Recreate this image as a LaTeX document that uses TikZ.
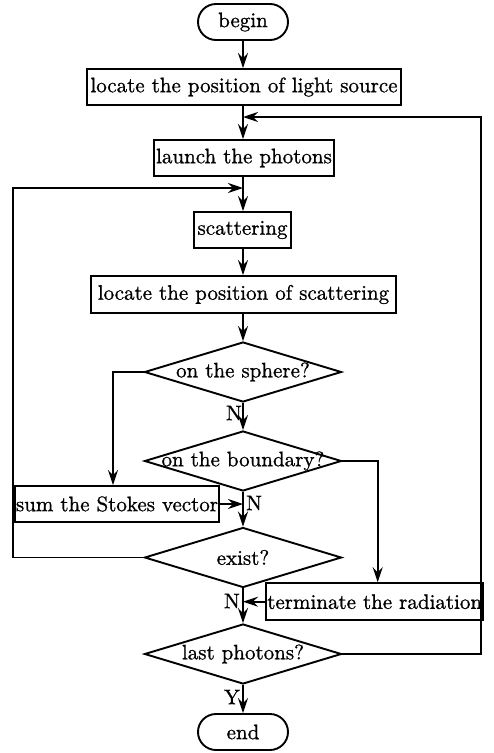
\documentclass[tikz,border=0pt]{standalone}
\usepackage{fontspec}
% the 10pt design of Latin Modern, scaled up and slightly emboldened
\setmainfont{lmroman10-regular.otf}[RawFeature={embolden=0.9}]
\usetikzlibrary{arrows.meta,shapes.geometric}
\tikzset{
  flow/.style={line width=1.9pt,-{Stealth[length=15pt,width=10pt,inset=5pt]}},
  procbox/.style={draw,line width=1.9pt,rectangle,inner xsep=1pt,inner ysep=0pt},
  termbox/.style={draw,line width=1.9pt,rectangle,rounded corners=18pt,minimum width=90pt,minimum height=36pt,inner sep=0pt},
  decide/.style={draw,line width=1.9pt,diamond,inner sep=0pt,minimum width=197pt,minimum height=60pt},
  tag/.style={inner sep=1pt},
}
\begin{document}
\begin{tikzpicture}[x=1pt,y=-1pt,font=\fontsize{21}{24}\selectfont]
\path[use as bounding box] (0,0) rectangle (494,753);

% main column
\node[termbox] (begin) at (243,22) {begin};
\node[procbox,minimum width=314pt,minimum height=36pt] (light) at (244,87) {locate the position of light source};
\node[procbox,minimum width=180pt,minimum height=36pt] (launch) at (244,158) {launch the photons};
\node[procbox,minimum width=97pt,minimum height=36pt] (scat) at (242.5,230) {scattering};
\node[procbox,minimum width=305pt,minimum height=37pt] (locsc) at (243.5,294.5) {locate the position of scattering};
\node[decide] (sphere) at (243,372) {\makebox[0pt]{on the sphere?}};
\node[decide] (bound) at (243,461) {\makebox[0pt]{on the boundary?}};
\node[procbox,minimum width=202pt,minimum height=36pt] (sum) at (117,504) {sum the Stokes vector};
\node[decide] (exist) at (243,557.5) {\makebox[0pt]{exist?}};
\node[procbox,minimum width=211pt,minimum height=37pt] (term) at (374.7,601.7) {terminate the radiation};
\node[decide] (last) at (243,654) {\makebox[0pt]{last photons?}};
\node[termbox] (end) at (243,732) {end};

% junction points on the main axis
\coordinate (j1) at (243,117);
\coordinate (j2) at (243,188);
\coordinate (j3) at (243,504);
\coordinate (j4) at (243,601.7);

% corner points of the side branches
\coordinate (r1) at (481,654);
\coordinate (r2) at (481,117);
\coordinate (l1) at (13,557.5);
\coordinate (l2) at (13,188);
\coordinate (s1) at (113,372);
\coordinate (b1) at (377.7,461);

% straight flow
\draw[flow] (begin) -- (light.north -| begin);
\draw[flow] (light.south -| begin) -- (launch.north -| begin);
\draw[flow] (launch.south -| begin) -- (scat.north -| begin);
\draw[flow] (scat.south -| begin) -- (locsc.north -| begin);
\draw[flow] (locsc.south -| begin) -- (sphere.north);
\draw[flow] (sphere.south) -- (bound.north);
\draw[flow] (bound.south) -- (exist.north);
\draw[flow] (exist.south) -- (last.north);
\draw[flow] (last.south) -- (end.north -| last);

% loops and branches
\draw[flow] (last.east) -- (r1) -- (r2) -- (j1);
\draw[flow] (exist.west) -- (l1) -- (l2) -- (j2);
\draw[flow] (sphere.west) -- (s1) -- (sum.north -| s1);
\draw[flow] (bound.east) -- (b1) -- (term.north -| b1);
\draw[flow] (sum.east) -- (j3);
\draw[flow] (term.west) -- (j4);

% branch labels
\node[tag,anchor=east] (nsphere) at (243,413) {N};
\node[tag,anchor=west] (nbound) at (245,503) {N};
\node[tag,anchor=east] (nexist) at (241,601) {N};
\node[tag,anchor=east] (ylast) at (241,697) {Y};
\end{tikzpicture}
\end{document}
